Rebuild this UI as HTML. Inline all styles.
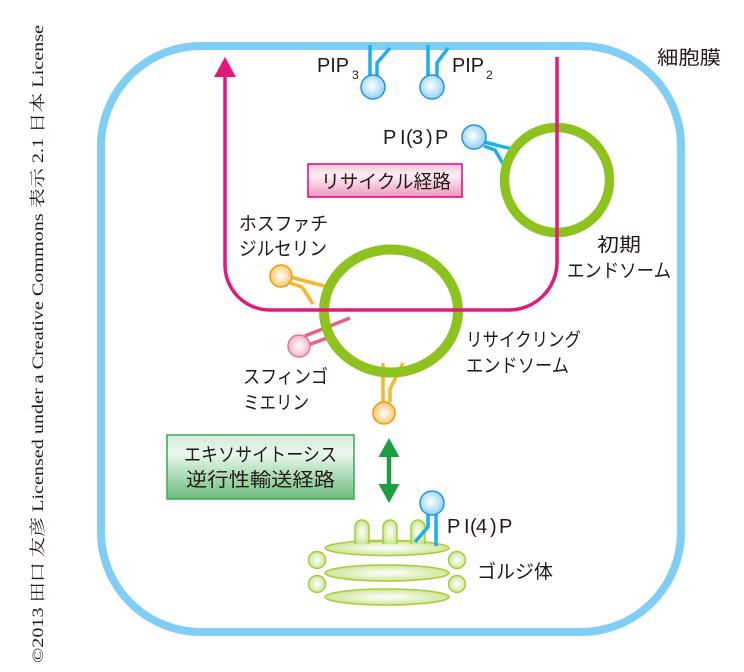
<!DOCTYPE html>
<html><head><meta charset="utf-8"><style>
html,body{margin:0;padding:0;background:#fff;}
svg{display:block;}
.jp{font-family:"Liberation Sans","Noto Sans CJK JP",sans-serif;font-size:19px;fill:#231815;}
.la{font-family:"Liberation Sans",sans-serif;fill:#231815;}
</style></head><body>
<svg width="744" height="672" viewBox="0 0 744 672" xmlns="http://www.w3.org/2000/svg">
<defs>
<radialGradient id="gb" cx="0.45" cy="0.45" r="0.6"><stop offset="0" stop-color="#ffffff"/><stop offset="1" stop-color="#8ccdf3"/></radialGradient>
<radialGradient id="go" cx="0.5" cy="0.5" r="0.6"><stop offset="0" stop-color="#ffffff"/><stop offset="1" stop-color="#f9bd55"/></radialGradient>
<radialGradient id="gp" cx="0.5" cy="0.5" r="0.6"><stop offset="0" stop-color="#ffffff"/><stop offset="1" stop-color="#f2a7bd"/></radialGradient>
<radialGradient id="gg" cx="0.5" cy="0.5" r="0.6"><stop offset="0" stop-color="#ffffff"/><stop offset="1" stop-color="#c6e286"/></radialGradient>
<linearGradient id="pinkbox" x1="0" y1="0" x2="0" y2="1"><stop offset="0" stop-color="#f7c9dc"/><stop offset="0.35" stop-color="#fdeef4"/><stop offset="1" stop-color="#ef97bd"/></linearGradient>
<linearGradient id="greenbox" x1="0" y1="0" x2="0" y2="1"><stop offset="0" stop-color="#d3edd7"/><stop offset="0.3" stop-color="#e8f6ea"/><stop offset="1" stop-color="#6cbd7f"/></linearGradient>
</defs>

<!-- copyright vertical text -->
<text transform="translate(43,663) rotate(-90)" x="0" y="0" font-family="'Liberation Serif','Noto Serif CJK SC',serif" font-size="16" fill="#231815" textLength="638" lengthAdjust="spacingAndGlyphs">©2013 田口 友彦 Licensed under a Creative Commons 表示 2.1 日本 License</text>

<!-- cell membrane -->
<rect x="101" y="46" width="580" height="586" rx="100" ry="100" fill="none" stroke="#80cef4" stroke-width="8"/>

<!-- PIP3 / PIP2 -->
<g stroke="#1cb0ea" stroke-width="3.5" fill="none">
<path d="M370,45 V76"/>
<path d="M390,48 L377,63 V76"/>
<path d="M428,45 V76"/>
<path d="M448,48 L437,63 V76"/>
</g>
<circle cx="373" cy="87" r="12" fill="url(#gb)" stroke="#1e96dc" stroke-width="1.5"/>
<circle cx="432" cy="87" r="12" fill="url(#gb)" stroke="#1e96dc" stroke-width="1.5"/>
<text class="la" x="317" y="72" font-size="20" textLength="32" lengthAdjust="spacingAndGlyphs">PIP</text>
<text class="la" x="352" y="79" font-size="12">3</text>
<text class="la" x="452" y="72" font-size="20" textLength="32" lengthAdjust="spacingAndGlyphs">PIP</text>
<text class="la" x="486" y="79" font-size="12">2</text>

<!-- PI(3)P -->
<g stroke="#1cb0ea" stroke-width="3.5" fill="none">
<path d="M484,142 L516,150"/>
<path d="M484,146 L495,150 L505,167"/>
</g>
<circle cx="474" cy="137" r="12" fill="url(#gb)" stroke="#1e96dc" stroke-width="1.5"/>
<text class="la" font-size="20" y="144" x="383 400 406 412 426 435">PI(3)P</text>

<!-- recycle box -->
<rect x="308" y="164" width="154" height="33" fill="url(#pinkbox)" stroke="#e4007f" stroke-width="1.5"/>
<text class="jp" x="321" y="188" textLength="130" lengthAdjust="spacingAndGlyphs">リサイクル経路</text>

<!-- lipids around recycling endosome -->
<g stroke="#f8b62d" stroke-width="3.5" fill="none">
<path d="M290,277 L328,287"/>
<path d="M290,283 L302,287 L313,304"/>
<path d="M383,363 V402"/>
<path d="M403,363 L390,389 V402"/>
</g>
<g stroke="#ea5f86" stroke-width="3.5" fill="none">
<path d="M305,336 L350,318"/>
<path d="M308,345 L330,337"/>
</g>
<circle cx="281" cy="276" r="11" fill="url(#go)" stroke="#f39800" stroke-width="1.5"/>
<circle cx="299" cy="346" r="11" fill="url(#gp)" stroke="#e8708d" stroke-width="1.5"/>
<circle cx="384" cy="413" r="11" fill="url(#go)" stroke="#f39800" stroke-width="1.5"/>

<!-- endosomes -->
<circle cx="557" cy="180" r="52.5" fill="none" stroke="#8dc21f" stroke-width="9.5"/>
<ellipse cx="391" cy="311" rx="67" ry="61.5" fill="none" stroke="#8dc21f" stroke-width="10"/>

<!-- pink recycle path -->
<path d="M557,57 V262 A48,48 0 0 1 509,310 H270 A45,45 0 0 1 225,265 V74" fill="none" stroke="#e4187a" stroke-width="3.5"/>
<polygon points="225,57 214,77 236,77" fill="#e4187a"/>

<!-- labels -->
<text class="jp" x="657" y="64" textLength="64" lengthAdjust="spacingAndGlyphs">細胞膜</text>
<text class="jp" x="597" y="251" textLength="44" lengthAdjust="spacingAndGlyphs">初期</text>
<text class="jp" x="567" y="277" textLength="104" lengthAdjust="spacingAndGlyphs">エンドソーム</text>
<text class="jp" x="466" y="346" textLength="115" lengthAdjust="spacingAndGlyphs">リサイクリング</text>
<text class="jp" x="466" y="372" textLength="103" lengthAdjust="spacingAndGlyphs">エンドソーム</text>
<text class="jp" x="239" y="230" textLength="89" lengthAdjust="spacingAndGlyphs">ホスファチ</text>
<text class="jp" x="239" y="255" textLength="88" lengthAdjust="spacingAndGlyphs">ジルセリン</text>
<text class="jp" x="243" y="383" textLength="85" lengthAdjust="spacingAndGlyphs">スフィンゴ</text>
<text class="jp" x="243" y="409" textLength="66" lengthAdjust="spacingAndGlyphs">ミエリン</text>

<!-- green box -->
<rect x="167" y="435" width="187" height="64" fill="url(#greenbox)" stroke="#3ba757" stroke-width="1.5"/>
<text class="jp" x="184" y="461" textLength="153" lengthAdjust="spacingAndGlyphs">エキソサイトーシス</text>
<text class="jp" x="186" y="486" textLength="149" lengthAdjust="spacingAndGlyphs">逆行性輸送経路</text>

<!-- double arrow -->
<path d="M389,454 V487" stroke="#1a9e3f" stroke-width="4.5"/>
<polygon points="389,438 378.5,457 399.5,457" fill="#1a9e3f"/>
<polygon points="389,503 378.5,484 399.5,484" fill="#1a9e3f"/>

<!-- Golgi -->
<g stroke="#a5cd39" stroke-width="1.5" fill="url(#gg)">
<ellipse cx="387" cy="548" rx="62" ry="7.5"/>
<ellipse cx="387" cy="573" rx="62" ry="8"/>
<ellipse cx="387" cy="597" rx="62" ry="8"/>
<path d="M355,544 V527 A7,7 0 0 1 369,527 V544"/>
<path d="M383,544 V527 A7,7 0 0 1 397,527 V544"/>
<path d="M411,544 V527 A7,7 0 0 1 425,527 V544"/>
<path d="M369,541.5 H383 M397,541 H411" fill="none"/>
<circle cx="317" cy="560" r="8.5"/>
<circle cx="317" cy="584" r="8.5"/>
<circle cx="457" cy="560" r="8.5"/>
<circle cx="457" cy="584" r="8.5"/>
</g>
<g stroke="#1cb0ea" stroke-width="3.5" fill="none">
<path d="M428,514 V527 L415,542"/>
<path d="M436,514 V546"/>
</g>
<circle cx="432" cy="503" r="12" fill="url(#gb)" stroke="#1e96dc" stroke-width="1.5"/>
<text class="la" font-size="20" y="533" x="447 464 470 476 490 499">PI(4)P</text>
<text class="jp" x="477" y="578" textLength="76" lengthAdjust="spacingAndGlyphs">ゴルジ体</text>
</svg>
</body></html>
